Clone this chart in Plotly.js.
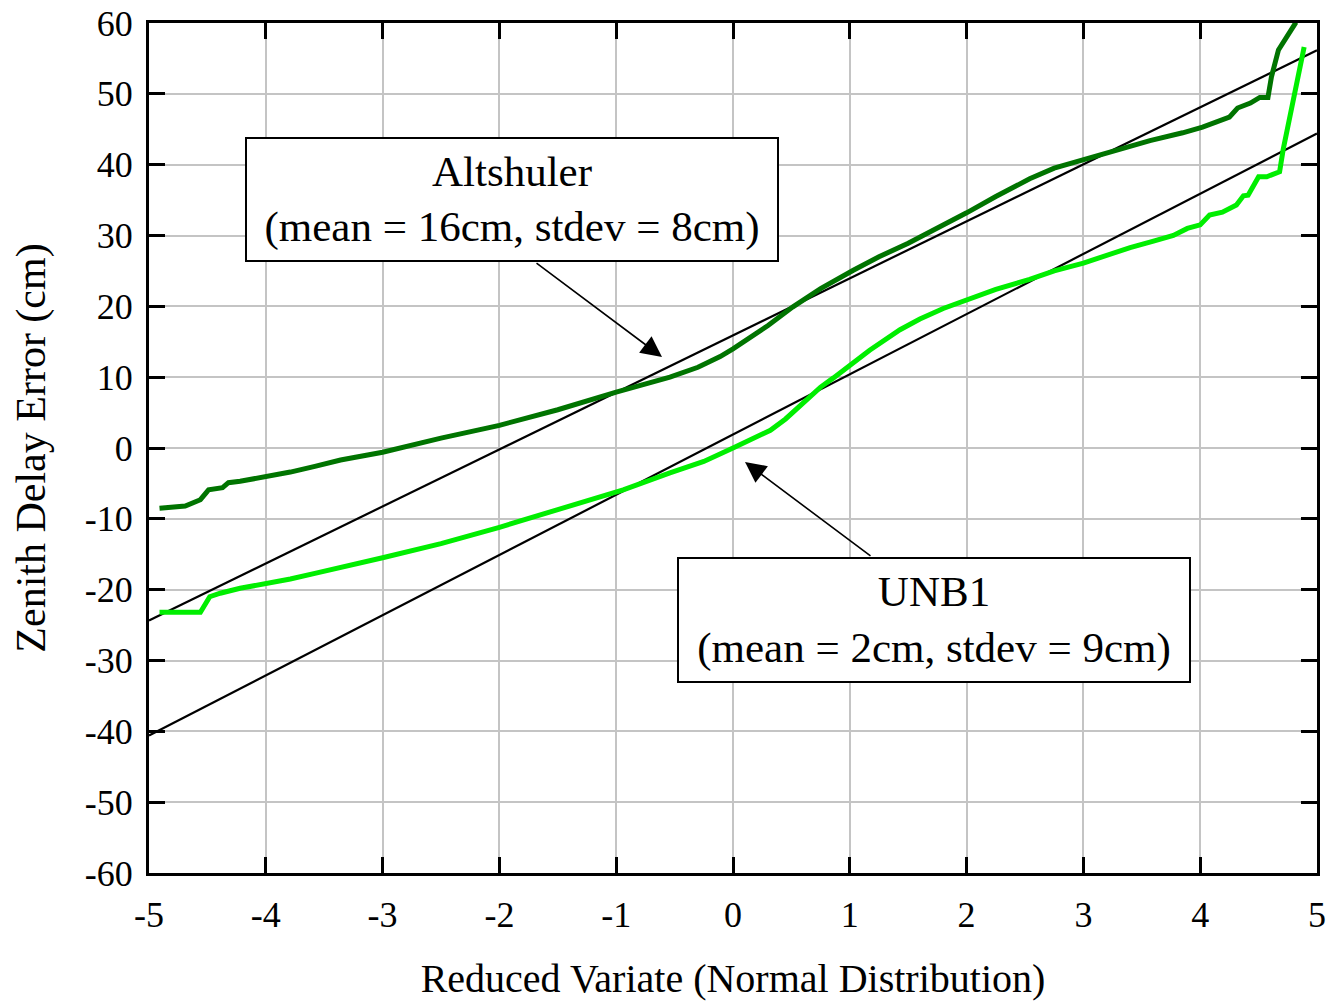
<!DOCTYPE html>
<html>
<head>
<meta charset="utf-8">
<script src="https://cdn.plot.ly/plotly-3.0.1.min.js"></script>
<style>
  html, body { margin: 0; padding: 0; background: #ffffff; }
  #chart { width: 1330px; height: 1002px; }
</style>
</head>
<body>
<div id="chart"></div>
<script>
// Altshuler model: sorted zenith delay errors vs reduced variate
const altX = [-4.91, -4.69, -4.56, -4.49, -4.37, -4.32, -4.22, -4.0, -3.79, -3.58, -3.36, -3.0, -2.5, -2.0, -1.5, -1.0, -0.8, -0.54, -0.3, -0.11, 0.0, 0.17, 0.3, 0.51, 0.75, 1.03, 1.25, 1.5, 1.75, 2.0, 2.25, 2.54, 2.75, 3.0, 3.3, 3.57, 3.85, 4.02, 4.25, 4.32, 4.43, 4.51, 4.58, 4.61, 4.67, 4.71, 4.82];
const altY = [-8.5, -8.2, -7.3, -5.9, -5.6, -4.9, -4.7, -4.1, -3.4, -2.6, -1.7, -0.6, 1.4, 3.2, 5.4, 7.9, 8.8, 10.0, 11.4, 12.9, 14.0, 15.8, 17.3, 19.9, 22.5, 25.1, 27.0, 28.9, 31.0, 33.2, 35.5, 38.0, 39.5, 40.7, 42.1, 43.4, 44.5, 45.3, 46.7, 48.0, 48.7, 49.5, 49.5, 52.4, 56.2, 57.2, 60.1];

// UNB1 model
const unbX = [-4.91, -4.56, -4.48, -4.39, -4.22, -4.0, -3.79, -3.58, -3.36, -3.0, -2.5, -2.0, -1.5, -0.94, -0.54, -0.25, 0.0, 0.15, 0.32, 0.45, 0.60, 0.75, 0.86, 1.0, 1.17, 1.43, 1.6, 1.8, 2.0, 2.25, 2.54, 2.75, 3.0, 3.2, 3.40, 3.6, 3.77, 3.89, 4.0, 4.08, 4.19, 4.31, 4.37, 4.41, 4.50, 4.57, 4.68, 4.71, 4.89];
const unbY = [-23.2, -23.2, -21.0, -20.5, -19.8, -19.2, -18.5, -17.7, -16.8, -15.5, -13.5, -11.2, -8.7, -5.9, -3.5, -1.9, 0.0, 1.2, 2.5, 4.1, 6.4, 8.6, 9.9, 11.6, 13.8, 16.7, 18.2, 19.7, 20.9, 22.4, 23.8, 25.0, 26.1, 27.2, 28.3, 29.2, 30.0, 31.0, 31.5, 32.9, 33.3, 34.3, 35.6, 35.7, 38.3, 38.3, 39.0, 42.1, 56.6];

// Fitted normal-distribution lines (end points)
const fitX = [-5, 5];
const altFitY = [-24.35, 56.15];
const unbFitY = [-40.6, 44.4];

// Axis ticks
const xTicks = [-5, -4, -3, -2, -1, 0, 1, 2, 3, 4, 5];
const yTicks = [-60, -50, -40, -30, -20, -10, 0, 10, 20, 30, 40, 50, 60];

// Labels
const altLabel = 'Altshuler<br>(mean = 16cm, stdev = 8cm)';
const unbLabel = 'UNB1<br>(mean = 2cm, stdev = 9cm)';
const xTitle = 'Reduced Variate (Normal Distribution)';
const yTitle = 'Zenith Delay Error (cm)';

const FONT = '"Liberation Serif", "Times New Roman", Times, serif';

const traces = [
  { x: fitX, y: altFitY, mode: 'lines', line: { color: '#000000', width: 2.2 }, hoverinfo: 'skip' },
  { x: fitX, y: unbFitY, mode: 'lines', line: { color: '#000000', width: 2.2 }, hoverinfo: 'skip' },
  { x: altX, y: altY, mode: 'lines', line: { color: '#007400', width: 5 } },
  { x: unbX, y: unbY, mode: 'lines', line: { color: '#00ee00', width: 5 } }
];

const axisCommon = {
  showline: true, linecolor: '#000000', linewidth: 3, mirror: 'ticks',
  ticks: 'inside', ticklen: 16, tickwidth: 3, tickcolor: '#000000',
  showgrid: true, gridcolor: '#c4c4c4', gridwidth: 2,
  zeroline: false,
  tickfont: { family: FONT, size: 36, color: '#000000' }
};

const layout = {
  width: 1330, height: 1002,
  margin: { l: 149, r: 13, t: 23, b: 129 },
  paper_bgcolor: '#ffffff', plot_bgcolor: '#ffffff',
  showlegend: false,
  xaxis: Object.assign({}, axisCommon, {
    range: [-5, 5], tickvals: xTicks, ticktext: xTicks.map(String),
    ticklabelstandoff: 8,
    title: { text: xTitle, font: { family: FONT, size: 40, color: '#000000' }, standoff: 30 }
  }),
  yaxis: Object.assign({}, axisCommon, {
    range: [-60, 60], tickvals: yTicks, ticktext: yTicks.map(String),
    ticklabelstandoff: 6,
    title: { text: yTitle, font: { family: FONT, size: 42, color: '#000000' }, standoff: 27 }
  }),
  annotations: [
    { xref: 'x', yref: 'y', x: -1.892, y: 35.08, text: altLabel, showarrow: false,
      font: { family: FONT, size: 43, color: '#000000' }, align: 'center',
      bgcolor: '#ffffff', bordercolor: '#000000', borderwidth: 2, borderpad: 0,
      width: 530, height: 121 },
    { xref: 'x', yref: 'y', x: 1.721, y: -24.29, text: unbLabel, showarrow: false,
      font: { family: FONT, size: 43, color: '#000000' }, align: 'center',
      bgcolor: '#ffffff', bordercolor: '#000000', borderwidth: 2, borderpad: 0,
      width: 510, height: 122 },
    { xref: 'x', yref: 'y', axref: 'x', ayref: 'y', x: -0.608, y: 12.85, ax: -1.695, ay: 26.26,
      text: '', showarrow: true, arrowhead: 2, arrowsize: 2.6, arrowwidth: 1.6, arrowcolor: '#000000' },
    { xref: 'x', yref: 'y', axref: 'x', ayref: 'y', x: 0.103, y: -1.98, ax: 1.19, ay: -15.4,
      text: '', showarrow: true, arrowhead: 2, arrowsize: 2.6, arrowwidth: 1.6, arrowcolor: '#000000' }
  ]
};

Plotly.newPlot('chart', traces, layout, { staticPlot: true, displayModeBar: false });
</script>
</body>
</html>
